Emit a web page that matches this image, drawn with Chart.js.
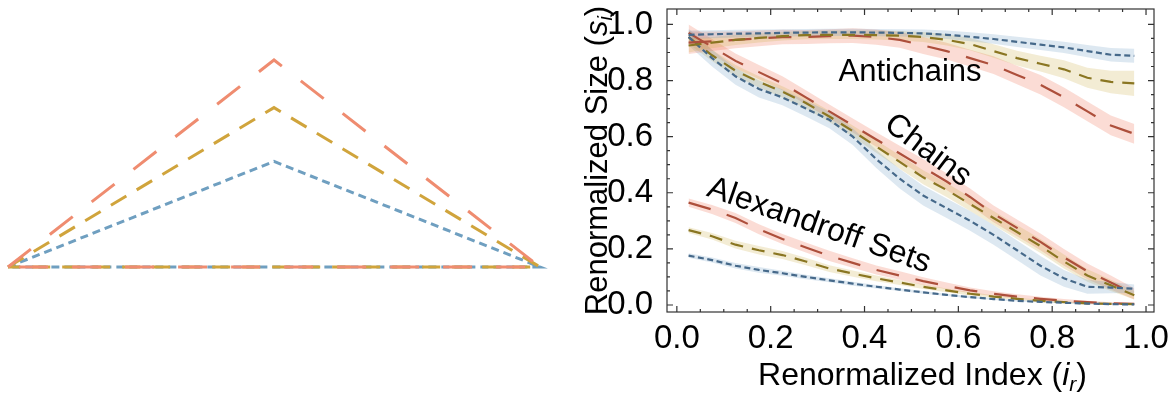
<!DOCTYPE html>
<html>
<head>
<meta charset="utf-8">
<script src="https://cdn.jsdelivr.net/npm/chart.js@4"></script>
<style>
  html, body { margin: 0; padding: 0; background: #fff; }
  body { width: 1170px; height: 393px; position: relative; overflow: hidden; }
  #sketch { position: absolute; left: 0; top: 0; }
  #sizes { position: absolute; left: 580px; top: 0; }
</style>
</head>
<body>
<canvas id="sketch" width="560" height="393"></canvas>
<canvas id="sizes" width="590" height="393"></canvas>
<script>
// bin centres of the renormalized index
const index = [0.025, 0.075, 0.125, 0.175, 0.225, 0.275, 0.325, 0.375, 0.425, 0.475,
               0.525, 0.575, 0.625, 0.675, 0.725, 0.775, 0.825, 0.875, 0.925, 0.975];

// antichains
const antiBlue  = [0.963, 0.965, 0.967, 0.968, 0.970, 0.971, 0.972, 0.972, 0.971, 0.970, 0.968, 0.963, 0.956, 0.948, 0.938, 0.928, 0.918, 0.905, 0.892, 0.888];
const antiOlive = [0.925, 0.935, 0.945, 0.952, 0.958, 0.962, 0.963, 0.963, 0.962, 0.960, 0.955, 0.945, 0.930, 0.905, 0.880, 0.860, 0.840, 0.810, 0.795, 0.790];
const antiRed   = [0.935, 0.940, 0.945, 0.950, 0.955, 0.955, 0.958, 0.960, 0.955, 0.945, 0.925, 0.905, 0.880, 0.855, 0.820, 0.785, 0.740, 0.690, 0.640, 0.610];
// chains
const chainBlue  = [0.955, 0.880, 0.815, 0.770, 0.740, 0.700, 0.660, 0.600, 0.520, 0.450, 0.390, 0.345, 0.300, 0.250, 0.195, 0.140, 0.095, 0.065, 0.062, 0.058];
const chainOlive = [0.955, 0.890, 0.835, 0.795, 0.760, 0.720, 0.672, 0.620, 0.565, 0.510, 0.455, 0.410, 0.360, 0.310, 0.260, 0.210, 0.155, 0.105, 0.070, 0.035];
const chainRed   = [0.970, 0.920, 0.870, 0.830, 0.790, 0.740, 0.690, 0.640, 0.590, 0.540, 0.490, 0.440, 0.385, 0.325, 0.275, 0.225, 0.170, 0.120, 0.080, 0.040];
// alexandroff sets
const alexBlue  = [0.176, 0.160, 0.140, 0.125, 0.113, 0.100, 0.088, 0.076, 0.065, 0.055, 0.045, 0.036, 0.028, 0.021, 0.015, 0.011, 0.008, 0.005, 0.003, 0.002];
const alexOlive = [0.267, 0.245, 0.215, 0.195, 0.178, 0.155, 0.130, 0.112, 0.095, 0.080, 0.065, 0.052, 0.040, 0.030, 0.022, 0.015, 0.010, 0.006, 0.004, 0.003];
const alexRed   = [0.365, 0.340, 0.310, 0.270, 0.235, 0.205, 0.175, 0.150, 0.125, 0.105, 0.085, 0.068, 0.052, 0.040, 0.030, 0.022, 0.015, 0.010, 0.006, 0.004];

// half widths of the shaded bands
const antiBlueErr   = [0.015, 0.014, 0.014, 0.014, 0.013, 0.013, 0.013, 0.013, 0.013, 0.013, 0.014, 0.015, 0.016, 0.017, 0.018, 0.019, 0.020, 0.022, 0.024, 0.025];
const antiOliveErr  = [0.025, 0.020, 0.018, 0.016, 0.015, 0.015, 0.015, 0.015, 0.016, 0.017, 0.018, 0.020, 0.022, 0.024, 0.026, 0.028, 0.032, 0.036, 0.040, 0.045];
const antiRedErr    = [0.040, 0.035, 0.030, 0.028, 0.026, 0.025, 0.025, 0.026, 0.027, 0.028, 0.030, 0.030, 0.030, 0.032, 0.033, 0.035, 0.035, 0.035, 0.035, 0.035];
const chainBlueErr  = [0.030, 0.030, 0.030, 0.030, 0.028, 0.028, 0.030, 0.030, 0.032, 0.035, 0.035, 0.035, 0.035, 0.035, 0.035, 0.035, 0.030, 0.025, 0.020, 0.015];
const chainOliveErr = [0.025, 0.020, 0.020, 0.020, 0.020, 0.020, 0.020, 0.020, 0.022, 0.024, 0.025, 0.025, 0.025, 0.025, 0.025, 0.025, 0.025, 0.022, 0.020, 0.015];
const chainRedErr   = [0.030, 0.028, 0.026, 0.025, 0.025, 0.025, 0.025, 0.025, 0.026, 0.028, 0.030, 0.030, 0.030, 0.030, 0.030, 0.030, 0.030, 0.028, 0.025, 0.020];
const alexBlueErr   = [0.008, 0.009, 0.010, 0.010, 0.009, 0.008, 0.007, 0.007, 0.006, 0.005, 0.005, 0.004, 0.004, 0.003, 0.003, 0.002, 0.002, 0.002, 0.001, 0.001];
const alexOliveErr  = [0.010, 0.012, 0.014, 0.015, 0.014, 0.013, 0.012, 0.011, 0.010, 0.009, 0.008, 0.007, 0.006, 0.005, 0.004, 0.004, 0.003, 0.003, 0.002, 0.002];
const alexRedErr    = [0.015, 0.016, 0.018, 0.018, 0.018, 0.018, 0.018, 0.017, 0.016, 0.015, 0.014, 0.012, 0.010, 0.009, 0.008, 0.007, 0.006, 0.005, 0.004, 0.003];

const xTicks = [0, 0.2, 0.4, 0.6, 0.8, 1.0];
const yTicks = [0, 0.2, 0.4, 0.6, 0.8, 1.0];

// left sketch: triangle corners and apex heights (blue, olive, red)
const triangleX = [0, 0.5, 1];
const triangleApex = [0.51, 0.77, 1.0];

const FONT = '"Liberation Sans", Arial, Helvetica, sans-serif';
Chart.defaults.font.family = FONT;

const styles = {
  blue:  { line: '#46698a', band: 'rgba(100,150,190,0.22)', dash: [6, 3.5] },
  olive: { line: '#8a7622', band: 'rgba(200,170,60,0.22)',  dash: [13, 9] },
  red:   { line: '#ad4f3b', band: 'rgba(240,110,80,0.24)',  dash: [23, 17] }
};

const series = [
  { v: antiBlue,   e: antiBlueErr,   s: styles.blue },
  { v: antiOlive,  e: antiOliveErr,  s: styles.olive },
  { v: antiRed,    e: antiRedErr,    s: styles.red },
  { v: chainBlue,  e: chainBlueErr,  s: styles.blue },
  { v: chainOlive, e: chainOliveErr, s: styles.olive },
  { v: chainRed,   e: chainRedErr,   s: styles.red },
  { v: alexBlue,   e: alexBlueErr,   s: styles.blue },
  { v: alexOlive,  e: alexOliveErr,  s: styles.olive },
  { v: alexRed,    e: alexRedErr,    s: styles.red }
];

const pts = arr => arr.map((y, i) => ({ x: index[i], y: y }));

const datasets = [];
series.forEach(sr => {
  const lo = datasets.length;
  datasets.push({ data: pts(sr.v.map((y, i) => y - sr.e[i])), borderWidth: 0, pointRadius: 0, fill: false, order: 2 });
  datasets.push({ data: pts(sr.v.map((y, i) => y + sr.e[i])), borderWidth: 0, pointRadius: 0,
                  fill: { target: lo }, backgroundColor: sr.s.band, order: 2 });
});
series.forEach(sr => {
  datasets.push({ data: pts(sr.v), borderColor: sr.s.line, borderWidth: 2.2, borderDash: sr.s.dash,
                  pointRadius: 0, fill: false, tension: 0, order: 1 });
});

function drawMixed(ctx, parts, x, y) {
  let w = 0;
  parts.forEach(p => { ctx.font = p.f; w += ctx.measureText(p.t).width; });
  let cx = x - w / 2;
  parts.forEach(p => {
    ctx.font = p.f;
    ctx.fillText(p.t, cx, y + (p.dy || 0));
    cx += ctx.measureText(p.t).width;
  });
}

// fixed axis boxes so the plot frame lands where it does in the figure
function fixBox(size) {
  return s => {
    if (s.isHorizontal()) s.height = size; else s.width = size;
    s.paddingTop = 0; s.paddingBottom = 0; s.paddingLeft = 0; s.paddingRight = 0;
  };
}

const framePlugin = {
  id: 'frame',
  afterDatasetsDraw(chart) {
    const { ctx, chartArea: a, scales: { x, y } } = chart;
    ctx.save();
    ctx.strokeStyle = '#333';
    ctx.lineWidth = 1.2;
    ctx.strokeRect(a.left, a.top, a.right - a.left, a.bottom - a.top);
    ctx.beginPath();
    for (let i = 0; i <= 20; i++) {
      const v = i * 0.05;
      const len = i % 4 === 0 ? 6 : 3;
      const px = x.getPixelForValue(v);
      ctx.moveTo(px, a.bottom); ctx.lineTo(px, a.bottom - len);
      ctx.moveTo(px, a.top); ctx.lineTo(px, a.top + len);
      const py = y.getPixelForValue(v);
      ctx.moveTo(a.left, py); ctx.lineTo(a.left + len, py);
      ctx.moveTo(a.right, py); ctx.lineTo(a.right - len, py);
    }
    ctx.stroke();

    // curve labels
    ctx.fillStyle = '#000';
    ctx.textAlign = 'center';
    ctx.textBaseline = 'middle';
    const labels = [
      { t: 'Antichains', x: 0.497, y: 0.828, a: 0, s: 31 },
      { t: 'Chains', x: 0.535, y: 0.55, a: 37, s: 32 },
      { t: 'Alexandroff Sets', x: 0.303, y: 0.282, a: 19.3, s: 32 }
    ];
    labels.forEach(l => {
      ctx.save();
      ctx.font = l.s + 'px ' + FONT;
      ctx.translate(x.getPixelForValue(l.x), y.getPixelForValue(l.y));
      ctx.rotate(l.a * Math.PI / 180);
      ctx.fillText(l.t, 0, 0);
      ctx.restore();
    });

    // axis titles
    ctx.textAlign = 'left';
    ctx.textBaseline = 'alphabetic';
    drawMixed(ctx, [
      { t: 'Renormalized Index (', f: '32px ' + FONT }, { t: 'i', f: 'italic 32px ' + FONT },
      { t: 'r', f: 'italic 21px ' + FONT, dy: 6 }, { t: ')', f: '32px ' + FONT }
    ], (a.left + a.right) / 2 + 12, 385);
    ctx.save();
    ctx.translate(27, (a.top + a.bottom) / 2);
    ctx.rotate(-Math.PI / 2);
    drawMixed(ctx, [
      { t: 'Renormalized Size (', f: '31px ' + FONT }, { t: 's', f: 'italic 31px ' + FONT },
      { t: 'i', f: 'italic 20px ' + FONT, dy: 5 }, { t: ')', f: '31px ' + FONT }
    ], 0, 0);
    ctx.restore();
    ctx.restore();
  }
};

new Chart(document.getElementById('sizes'), {
  type: 'line',
  data: { datasets: datasets },
  options: {
    responsive: false,
    animation: false,
    layout: { padding: { left: 0, right: 16, top: 9, bottom: 0 } },
    plugins: { legend: { display: false }, tooltip: { enabled: false } },
    scales: {
      x: {
        type: 'linear', min: -0.021, max: 1.017,
        afterBuildTicks: s => { s.ticks = xTicks.map(v => ({ value: v })); },
        afterFit: fixBox(81),
        grid: { display: false }, border: { display: false },
        ticks: { font: { size: 33 }, color: '#000', padding: -1, maxRotation: 0, autoSkip: false,
                 callback: v => v.toFixed(1) }
      },
      y: {
        min: -0.025, max: 1.055,
        afterBuildTicks: s => { s.ticks = yTicks.map(v => ({ value: v })); },
        afterFit: fixBox(87),
        grid: { display: false }, border: { display: false },
        ticks: { font: { size: 33 }, color: '#000', padding: 6, autoSkip: false,
                 callback: v => v.toFixed(1) }
      }
    }
  },
  plugins: [framePlugin]
});

// left sketch
const sketchStyles = [
  { c: '#6f9fc0', dash: [8, 5] },
  { c: '#d0a43c', dash: [18, 12] },
  { c: '#ef8c70', dash: [29, 24] }
];
new Chart(document.getElementById('sketch'), {
  type: 'scatter',
  data: {
    datasets: triangleApex.map((h, k) => ({
      data: [
        { x: triangleX[0], y: 0 }, { x: triangleX[1], y: h },
        { x: triangleX[2], y: 0 }, { x: triangleX[0], y: 0 }
      ],
      showLine: true, borderColor: sketchStyles[k].c, borderDash: sketchStyles[k].dash,
      borderWidth: 3, pointRadius: 0, clip: false, order: 3 - k
    }))
  },
  options: {
    responsive: false,
    animation: false,
    layout: { padding: { left: 8, right: 20, top: 60, bottom: 126 } },
    plugins: { legend: { display: false }, tooltip: { enabled: false } },
    scales: {
      x: { display: false, min: 0, max: 1 },
      y: { display: false, min: 0, max: 1 }
    }
  }
});
</script>
</body>
</html>
